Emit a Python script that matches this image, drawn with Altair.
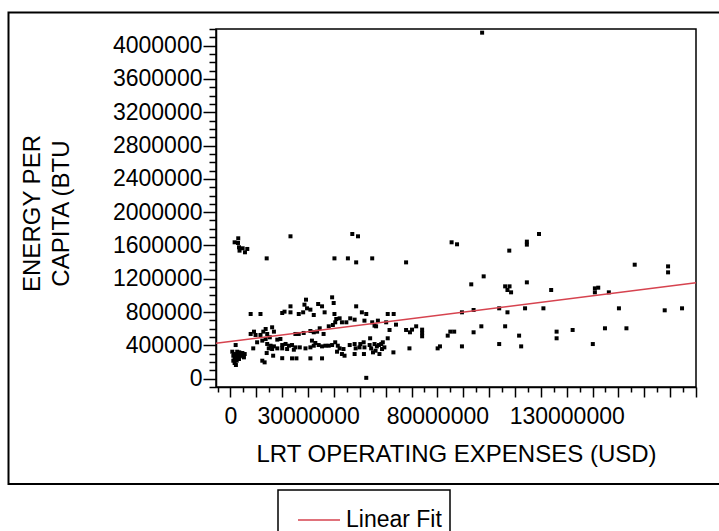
import altair as alt
import pandas as pd

# LRT operating expenses (million USD) and energy per capita (thousand BTU)
x_musd = [
    # top-left cluster and high singles
    3.0, 1.6, 2.9, 3.3, 3.5, 4.7, 6.5, 5.6, 23.2, 14.0, 40.2,
    # middle band 0-45M
    7.8, 11.6, 20.0, 20.9, 23.2, 23.2, 26.4, 28.1, 29.2, 28.6, 29.6, 30.9, 32.2, 33.9, 35.4, 36.4,
    39.3, 39.9, 40.2, 40.9, 42.2, 43.1, 40.5, 39.6, 38.0, 36.0, 34.5, 33.5, 32.2, 30.9, 28.3, 26.4, 25.1,
    # lower cluster 0-45M
    7.8, 9.1, 9.7, 11.6, 12.7, 13.6, 14.2, 16.1, 16.8, 15.2, 10.3, 12.3, 13.6, 14.2, 15.5, 16.8,
    18.1, 19.3, 20.0, 21.3, 22.6, 23.8, 25.1, 26.8, 24.5, 21.9, 20.0, 18.1, 16.1, 14.8, 8.8, 14.0,
    16.5, 20.0, 23.8, 25.5, 30.9, 35.4, 12.3, 13.2,
    31.5, 32.8, 32.2, 34.1, 35.4, 36.7, 38.0, 39.3, 40.5, 41.5, 42.2, 41.2, 43.1, 30.9, 29.0,
    # bottom-left block
    0.7, 1.35, 1.6, 1.1, 1.6, 2.1, 2.4, 2.6, 2.9, 2.6, 3.4, 3.9, 4.6, 5.0, 5.5, 5.2, 3.3, 1.9, 1.1, 2.0,
    # 43-90M
    47.1, 49.3, 45.4, 48.6, 54.8, 67.9, 85.5, 87.6,
    48.6, 50.8, 52.5, 44.8, 46.3, 48.0, 51.8, 54.8, 57.0, 60.2, 60.8, 63.1, 64.0, 55.7, 56.3, 61.5,
    67.9, 69.4, 71.8, 70.2, 74.1, 74.1, 74.1, 84.0, 85.0, 86.5, 89.5,
    43.7, 44.1, 46.1, 48.0, 48.4, 48.0, 49.9, 51.5, 51.8, 51.6, 54.0, 53.8, 55.7, 56.1, 56.6, 57.6,
    58.3, 58.9, 59.5, 60.8, 63.0, 69.2, 80.1, 81.0, 89.5, 52.5, 50.2, 54.4, 57.4, 58.6, 55.1,
    # 90-135M
    119.3, 114.6, 114.6, 107.8, 97.9, 93.1, 106.2, 107.9, 107.1, 108.5, 114.6, 124.0, 94.0, 103.9,
    107.1, 113.9, 121.0, 97.0, 94.0, 106.2, 111.6, 103.9, 112.4, 126.1, 126.1, 132.3,
    # 135-180M
    140.9, 142.2, 140.9, 146.3, 156.3, 169.2, 169.2, 150.2, 167.9, 174.6, 144.8, 153.1, 140.1,
    # outlier
    97.3,
]
y_kbtu = [
    1686, 1638, 1630, 1578, 1538, 1566, 1558, 1518, 1710, 1445, 1445,
    777, 777, 789, 805, 869, 797, 777, 797, 949, 889, 845, 829, 765, 897, 869, 797,
    977, 909, 777, 717, 725, 677, 677, 645, 629, 537, 605, 565, 557, 573, 549, 537, 537,
    537, 565, 525, 525, 565, 597, 537, 617, 565, 497, 437, 457, 477, 417, 396, 388,
    469, 477, 404, 417, 396, 404, 376, 376, 348, 356, 364, 364, 356, 364, 364, 308,
    276, 246, 244, 244, 244, 244, 216, 196,
    457, 429, 396, 404, 388, 396, 396, 404, 437, 396, 364, 324, 296, 376, 364,
    324, 296, 256, 216, 188, 164, 216, 256, 296, 324, 316, 276, 308, 268, 296, 256, 236, 236, 276, 404,
    1738, 1710, 1445, 1397, 1445, 1397, 1638, 1614,
    869, 797, 777, 677, 725, 709, 697, 677, 697, 677, 777, 777, 649, 637, 629, 585,
    585, 557, 629, 589, 589, 549, 509, 517, 565, 565, 797,
    356, 276, 404, 416, 364, 296, 376, 437, 376, 296, 485, 404, 416, 336, 388, 296,
    416, 437, 376, 485, 316, 364, 364, 388, 388, 10, 416, 364, 404, 356, 316,
    1738, 1646, 1610, 1538, 1229, 1133, 1109, 1109, 1065, 1037, 1157, 1065, 825, 845,
    797, 845, 845, 629, 557, 629, 517, 416, 388, 565, 485, 585,
    1085, 1093, 1037, 1037, 1369, 1349, 1277, 845, 821, 845, 605, 605, 416,
    4156,
]

# Linear fit as drawn in the picture (ends of the line at the plot edges)
fit_x = [-5_600_000, 180_000_000]
fit_y = [425_000, 1_153_000]
series_name = ["Linear Fit"]

x_ticks = list(range(-5_000_000, 180_000_001, 5_000_000))
y_ticks = list(range(-100_000, 4_200_001, 100_000))
x_labelled = [0, 30_000_000, 80_000_000, 130_000_000]
x_domain = [-5_600_000, 180_000_000]
y_domain = [-100_000, 4_200_000]

df = pd.DataFrame({"x": [v * 1e6 for v in x_musd], "y": [v * 1e3 for v in y_kbtu]})
fit_df = pd.DataFrame({"x": fit_x, "y": fit_y, "series": series_name * len(fit_x)})

FONT = "Liberation Sans"
RED = "#d6434f"

xs = alt.Scale(domain=x_domain, nice=False, zero=False)
ys = alt.Scale(domain=y_domain, nice=False, zero=False)

x_axis = alt.Axis(
    values=x_ticks, tickCount=500,
    title="LRT OPERATING EXPENSES (USD)",
    labelExpr="indexof([" + ",".join(str(v) for v in x_labelled) + "], datum.value) >= 0 ? format(datum.value, 'd') : ''",
    labelOverlap=False, labelFlush=False, grid=False,
    tickSize={"condition": {"test": "datum.value % 10000000 === 0", "value": 10}, "value": 5},
    tickColor="black", tickWidth=1.5, domainColor="black", domainWidth=1.5,
    labelFont=FONT, labelFontSize=23, labelColor="black", labelPadding=8,
    titleFont=FONT, titleFontSize=24, titleFontWeight="normal", titleColor="black",
    titleBaseline="alphabetic", titleY=74,
)
y_axis = alt.Axis(
    values=y_ticks, tickCount=500,
    title=["ENERGY PER", "CAPITA (BTU"],
    labelExpr="datum.value >= 0 && datum.value % 400000 === 0 ? format(datum.value, 'd') : ''",
    labelOverlap=False, labelFlush=False, grid=False,
    tickSize={"condition": {"test": "datum.value % 400000 === 0", "value": 13}, "value": 7},
    tickColor="black", tickWidth=1.5, domainColor="black", domainWidth=1.5,
    labelFont=FONT, labelFontSize=23, labelColor="black", labelPadding=1,
    titleFont=FONT, titleFontSize=24, titleFontWeight="normal", titleColor="black",
    titleAngle=270, titleX=-177, titleY=184, titleAlign="center", titleBaseline="alphabetic",
    titleLineHeight=29,
)

frame = alt.Chart(alt.Data(values=[{"k": 1}])).mark_rect(
    fillOpacity=0, stroke="black", strokeWidth=2
).encode(x=alt.value(-207.5), x2=alt.value(530), y=alt.value(-16.5), y2=alt.value(455))

points = alt.Chart(df).mark_square(size=16, color="black", opacity=1).encode(
    x=alt.X("x:Q", scale=xs, axis=x_axis),
    y=alt.Y("y:Q", scale=ys, axis=y_axis),
)

fit = alt.Chart(fit_df).mark_line(strokeWidth=1.5).encode(
    x=alt.X("x:Q", scale=xs),
    y=alt.Y("y:Q", scale=ys),
    color=alt.Color(
        "series:N",
        scale=alt.Scale(domain=series_name, range=[RED]),
        legend=alt.Legend(
            title=None, orient="none", legendX=62, legendY=461,
            strokeColor="black", padding=8, symbolType="stroke", symbolSize=1764,
            symbolStrokeWidth=1.5, symbolOffset=11, labelOffset=5,
            labelFont=FONT, labelFontSize=23, labelColor="black",
        ),
    ),
)

chart = (
    alt.layer(frame, points, fit)
    .properties(
        width=480, height=358,
        autosize=alt.AutoSizeParams(type="none"),
        padding={"left": 216, "top": 29, "right": 23, "bottom": 144},
        background="white",
    )
    .configure_view(stroke="black", strokeWidth=1.5)
    .configure_legend(strokeWidth=1.5)
)

chart.save("out.html", embed_options={"renderer": "svg", "actions": False})
